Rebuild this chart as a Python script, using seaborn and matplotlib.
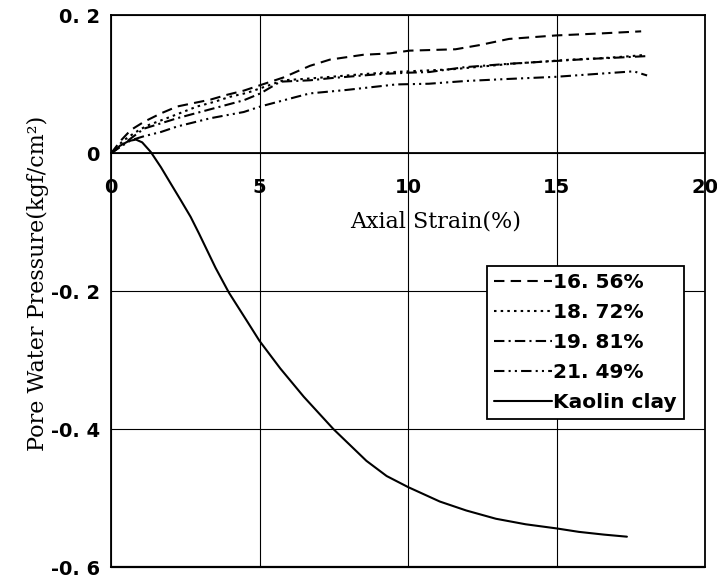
import matplotlib
matplotlib.use("Agg")
import matplotlib.pyplot as plt
import seaborn as sns
from matplotlib.lines import Line2D

# Axial strain (%) and pore water pressure (kgf/cm^2) for each specimen
strain_1656 = [0, 0.34, 0.67, 1.12, 1.68, 2.23, 2.79, 3.35, 3.91, 4.47, 5.03, 5.8, 6.7,
               7.37, 8.49, 9.38, 10.05, 11.6, 12.4, 13.4, 14.96, 16.5, 17.85]
pwp_1656 = [0, 0.019, 0.034, 0.046, 0.058, 0.068, 0.073, 0.078, 0.085, 0.091, 0.099, 0.11,
            0.127, 0.136, 0.143, 0.145, 0.149, 0.151, 0.157, 0.166, 0.171, 0.174, 0.177]

strain_1872 = [0, 0.4, 0.8, 1.2, 2.0, 2.9, 3.5, 4.0, 4.6, 5.2, 5.8, 6.5, 7.4, 8.5, 9.5,
               10.5, 11.5, 12.5, 13.5, 14.5, 15.5, 16.5, 17.5, 18.0]
pwp_1872 = [0, 0.018, 0.03, 0.04, 0.053, 0.068, 0.075, 0.082, 0.088, 0.097, 0.106, 0.108,
            0.111, 0.115, 0.118, 0.12, 0.122, 0.126, 0.13, 0.133, 0.136, 0.138, 0.141, 0.143]

strain_1981 = [0, 0.4, 0.8, 1.12, 2.23, 3.35, 4.47, 5.03, 5.7, 6.7, 7.37, 9.05, 10.0,
               10.72, 11.9, 13.4, 14.96, 16.1, 17.1, 18.0]
pwp_1981 = [0, 0.013, 0.026, 0.036, 0.051, 0.064, 0.077, 0.087, 0.104, 0.106, 0.109, 0.115,
            0.117, 0.118, 0.125, 0.13, 0.134, 0.137, 0.139, 0.141]

strain_2149 = [0, 0.3, 0.67, 1.12, 1.68, 2.23, 3.35, 4.47, 5.03, 6.25, 6.7, 7.93, 9.6,
               10.7, 11.95, 13.4, 14.96, 16.6, 17.6, 18.05]
pwp_2149 = [0, 0.009, 0.019, 0.025, 0.031, 0.039, 0.051, 0.06, 0.068, 0.082, 0.087, 0.092,
            0.1, 0.101, 0.105, 0.108, 0.111, 0.116, 0.119, 0.113]

strain_kaolin = [0, 0.3, 0.6, 0.84, 1.05, 1.34, 1.68, 2.0, 2.35, 2.68, 2.96, 3.24, 3.52,
                 3.97, 4.59, 5.0, 5.7, 6.49, 7.49, 8.6, 9.28, 10.0, 11.07, 11.96, 12.96,
                 13.96, 15.0, 15.75, 16.6, 17.37]
pwp_kaolin = [0, 0.011, 0.018, 0.02, 0.016, 0.002, -0.02, -0.043, -0.068, -0.092, -0.116,
              -0.141, -0.166, -0.202, -0.244, -0.272, -0.312, -0.353, -0.40, -0.446, -0.468,
              -0.484, -0.505, -0.518, -0.53, -0.538, -0.544, -0.549, -0.553, -0.556]

series_labels = ["16. 56%", "18. 72%", "19. 81%", "21. 49%", "Kaolin clay"]

x_ticks = [0, 5, 10, 15, 20]
x_tick_labels = ["0", "5", "10", "15", "20"]
y_ticks = [0.2, 0, -0.2, -0.4, -0.6]
y_tick_labels = ["0. 2", "0", "-0. 2", "-0. 4", "-0. 6"]

line_styles = [
    (0, (5, 3)),
    (0, (1.2, 2)),
    (0, (5, 2, 1, 2)),
    (0, (5, 2, 1, 2, 1, 2)),
    "-",
]

sns.set_theme(style="white")
plt.rcParams["font.family"] = ["DejaVu Sans"]
plt.rcParams["text.color"] = "black"
plt.rcParams["axes.labelcolor"] = "black"
plt.rcParams["xtick.color"] = "black"
plt.rcParams["ytick.color"] = "black"

fig = plt.figure(figsize=(7.17, 5.78), dpi=100)
ax = fig.add_axes([0.1548, 0.019, 0.8285, 0.9542])

data = [
    (strain_1656, pwp_1656),
    (strain_1872, pwp_1872),
    (strain_1981, pwp_1981),
    (strain_2149, pwp_2149),
    (strain_kaolin, pwp_kaolin),
]
for (xs, ys), lab, ls in zip(data, series_labels, line_styles):
    sns.lineplot(x=xs, y=ys, ax=ax, color="black", linewidth=1.5, linestyle=ls,
                 sort=False, estimator=None, label=lab, legend=False)

ax.set_xlim(0, 20)
ax.set_ylim(-0.6, 0.2)

# grid
ax.set_xticks(x_ticks, x_tick_labels)
ax.set_yticks(y_ticks, y_tick_labels)
ax.grid(True, color="black", linewidth=0.8)
ax.set_axisbelow(True)

# x axis runs along zero pressure; frame closes at the bottom
ax.spines["bottom"].set_position(("data", 0))
for s in ["left", "right", "top", "bottom"]:
    ax.spines[s].set_color("black")
    ax.spines[s].set_linewidth(1.3)
ax.axhline(-0.6, color="black", linewidth=1.6, clip_on=False)

ax.tick_params(axis="x", length=0, pad=18, labelsize=14, labelcolor="black")
ax.tick_params(axis="y", length=0, pad=8, labelsize=14, labelcolor="black")
for t in ax.get_xticklabels() + ax.get_yticklabels():
    t.set_fontweight("bold")

ax.set_xlabel("Axial Strain(%)", fontsize=16, family="DejaVu Serif", color="black")
ax.xaxis.set_label_coords(0.546, 0.626)
ax.xaxis.label.set_va("center")
ax.set_ylabel("Pore Water Pressure(kgf/cm²)", fontsize=16, family="DejaVu Serif",
              color="black")
ax.yaxis.set_label_coords(-0.123, 0.515)
ax.yaxis.label.set_va("center")

handles = [Line2D([], [], color="black", linewidth=1.5, linestyle=ls) for ls in line_styles]
leg = ax.legend(handles, series_labels, loc="upper left", bbox_to_anchor=(0.633, 0.546),
                frameon=True, fancybox=False, shadow=False, borderaxespad=0,
                handlelength=2.9, handletextpad=0.05, labelspacing=0.55, borderpad=0.35,
                prop={"weight": "bold", "size": 14.5})
leg.get_frame().set_edgecolor("black")
leg.get_frame().set_linewidth(1.3)
leg.get_frame().set_alpha(1)
for t in leg.get_texts():
    t.set_color("black")

fig.savefig("out.png", dpi=100, facecolor="white")
